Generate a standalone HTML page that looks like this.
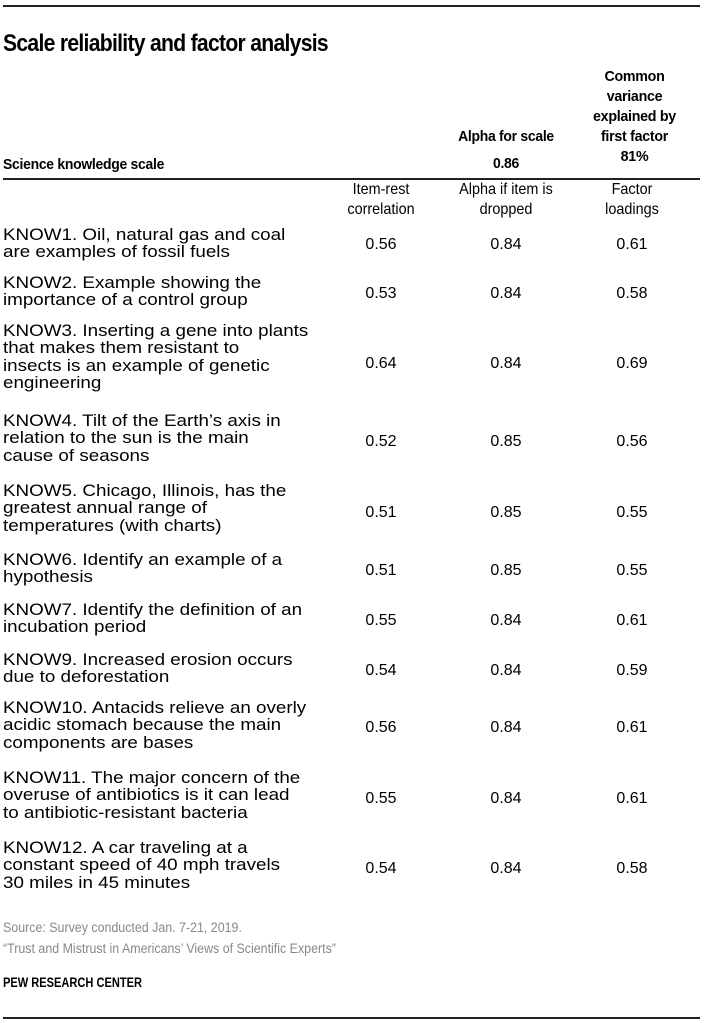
<!DOCTYPE html>
<html><head><meta charset="utf-8"><style>
body{margin:0;width:709px;height:1023px;background:#fff;position:relative;font-family:"Liberation Sans",sans-serif;color:#000;overflow:hidden}
.a{position:absolute}
.hr{position:absolute;left:3px;width:697px;background:#222}
.t{font-size:16.5px;line-height:17.3px;left:3px;transform:scaleX(1.14);transform-origin:0 0;white-space:nowrap}
.v{font-size:16px;line-height:17px;width:100px;text-align:center}
.b{font-weight:bold;font-size:15px;line-height:20px;letter-spacing:-0.3px}
.h{font-size:16px;line-height:20px;text-align:center;width:130px;transform:scaleX(0.9)}
.g{color:#888;font-size:13.5px;left:3px;transform:scaleX(0.92);transform-origin:0 0;white-space:nowrap}
</style></head><body>
<div class="hr" style="top:5px;height:2px"></div>
<div class="a" style="left:3px;top:30px;font-size:24px;font-weight:bold;letter-spacing:-0.8px;transform:scaleX(0.88);transform-origin:0 0;white-space:nowrap">Scale reliability and factor analysis</div>
<div class="a b" style="left:572px;top:67px;width:125px;text-align:center;transform:scaleX(0.95)">Common<br>variance<br>explained by<br>first factor<br>81%</div>
<div class="a b" style="left:436px;top:127px;width:140px;text-align:center;transform:scaleX(0.93)">Alpha for scale<br><span style="position:relative;top:7px">0.86</span></div>
<div class="a b" style="left:3px;top:155px;transform:scaleX(0.93);transform-origin:0 0;white-space:nowrap">Science knowledge scale</div>
<div class="hr" style="top:178px;height:2px"></div>
<div class="a h" style="left:316px;top:180px">Item-rest<br>correlation</div>
<div class="a h" style="left:441px;top:180px">Alpha if item is<br>dropped</div>
<div class="a h" style="left:567px;top:180px">Factor<br>loadings</div>

<div class="a t" style="top:227px">KNOW1. Oil, natural gas and coal<br>are examples of fossil fuels</div>
<div class="a t" style="top:275px">KNOW2. Example showing the<br>importance of a control group</div>
<div class="a t" style="top:323px">KNOW3. Inserting a gene into plants<br>that makes them resistant to<br>insects is an example of genetic<br>engineering</div>
<div class="a t" style="top:413px">KNOW4. Tilt of the Earth’s axis in<br>relation to the sun is the main<br>cause of seasons</div>
<div class="a t" style="top:483px">KNOW5. Chicago, Illinois, has the<br>greatest annual range of<br>temperatures (with charts)</div>
<div class="a t" style="top:552px">KNOW6. Identify an example of a<br>hypothesis</div>
<div class="a t" style="top:602px">KNOW7. Identify the definition of an<br>incubation period</div>
<div class="a t" style="top:652px">KNOW9. Increased erosion occurs<br>due to deforestation</div>
<div class="a t" style="top:700px">KNOW10. Antacids relieve an overly<br>acidic stomach because the main<br>components are bases</div>
<div class="a t" style="top:770px">KNOW11. The major concern of the<br>overuse of antibiotics is it can lead<br>to antibiotic-resistant bacteria</div>
<div class="a t" style="top:840px">KNOW12. A car traveling at a<br>constant speed of 40 mph travels<br>30 miles in 45 minutes</div>

<div class="a v" style="left:331px;top:236px">0.56</div><div class="a v" style="left:456px;top:236px">0.84</div><div class="a v" style="left:582px;top:236px">0.61</div>
<div class="a v" style="left:331px;top:285px">0.53</div><div class="a v" style="left:456px;top:285px">0.84</div><div class="a v" style="left:582px;top:285px">0.58</div>
<div class="a v" style="left:331px;top:355px">0.64</div><div class="a v" style="left:456px;top:355px">0.84</div><div class="a v" style="left:582px;top:355px">0.69</div>
<div class="a v" style="left:331px;top:433px">0.52</div><div class="a v" style="left:456px;top:433px">0.85</div><div class="a v" style="left:582px;top:433px">0.56</div>
<div class="a v" style="left:331px;top:504px">0.51</div><div class="a v" style="left:456px;top:504px">0.85</div><div class="a v" style="left:582px;top:504px">0.55</div>
<div class="a v" style="left:331px;top:562px">0.51</div><div class="a v" style="left:456px;top:562px">0.85</div><div class="a v" style="left:582px;top:562px">0.55</div>
<div class="a v" style="left:331px;top:612px">0.55</div><div class="a v" style="left:456px;top:612px">0.84</div><div class="a v" style="left:582px;top:612px">0.61</div>
<div class="a v" style="left:331px;top:662px">0.54</div><div class="a v" style="left:456px;top:662px">0.84</div><div class="a v" style="left:582px;top:662px">0.59</div>
<div class="a v" style="left:331px;top:719px">0.56</div><div class="a v" style="left:456px;top:719px">0.84</div><div class="a v" style="left:582px;top:719px">0.61</div>
<div class="a v" style="left:331px;top:790px">0.55</div><div class="a v" style="left:456px;top:790px">0.84</div><div class="a v" style="left:582px;top:790px">0.61</div>
<div class="a v" style="left:331px;top:860px">0.54</div><div class="a v" style="left:456px;top:860px">0.84</div><div class="a v" style="left:582px;top:860px">0.58</div>

<div class="a g" style="top:920px">Source: Survey conducted Jan. 7-21, 2019.</div>
<div class="a g" style="top:941px">“Trust and Mistrust in Americans’ Views of Scientific Experts”</div>
<div class="a" style="left:3px;top:975px;font-size:13.5px;font-weight:bold;transform:scaleX(0.82);transform-origin:0 0;white-space:nowrap">PEW RESEARCH CENTER</div>
<div class="hr" style="top:1017px;height:2px"></div>
</body></html>
